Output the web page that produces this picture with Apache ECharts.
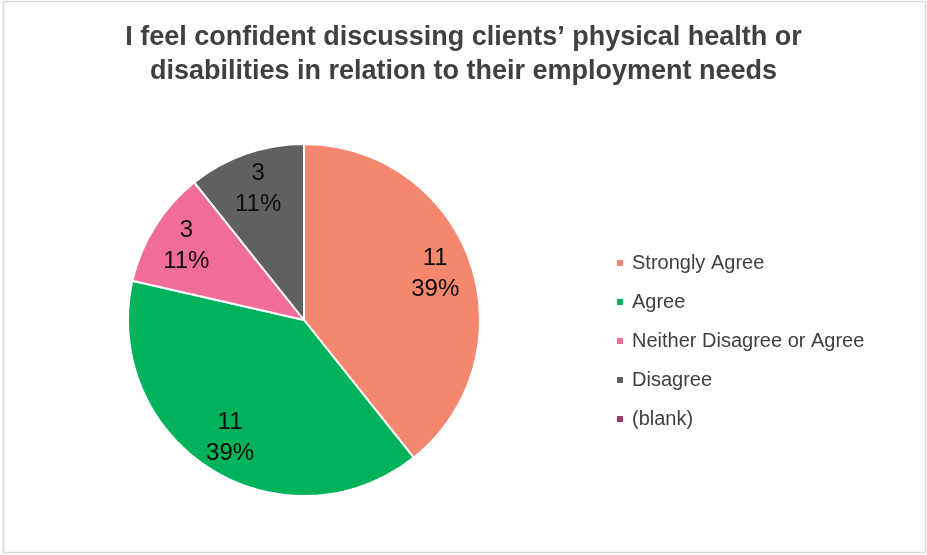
<!DOCTYPE html>
<html>
<head>
<meta charset="utf-8">
<script src="https://cdn.jsdelivr.net/npm/echarts@6/dist/echarts.min.js"></script>
<style>
  html, body { margin: 0; padding: 0; background: #fff; }
  #chart { width: 927px; height: 555px; }
</style>
</head>
<body>
<div id="chart"></div>
<script>
// Survey responses
const titleText = 'I feel confident discussing clients\u2019 physical health or\ndisabilities in relation to their employment needs';
const categories = ['Strongly Agree', 'Agree', 'Neither Disagree or Agree', 'Disagree', '(blank)'];
const counts = [11, 11, 3, 3, 0];
const colors = ['#F4876D', '#00B25A', '#F06C9B', '#5F6062', '#9E3A72'];

const sliceData = categories.map((name, i) => ({
  name: name,
  value: counts[i],
  itemStyle: { color: colors[i] }
}));

const labelData = categories.map((name, i) => ({
  name: name,
  value: counts[i],
  label: { show: counts[i] > 0 }
}));

const center = [304, 320];
const fontFamily = 'Liberation Sans, Arial, sans-serif';
const chart = echarts.init(document.getElementById('chart'), null, { renderer: 'canvas' });

chart.setOption({
  backgroundColor: '#ffffff',
  animation: false,
  title: {
    text: titleText,
    left: 'center',
    top: 16,
    textStyle: {
      fontFamily: fontFamily,
      fontWeight: 'bold',
      fontSize: 27,
      lineHeight: 34,
      color: '#404040'
    }
  },
  legend: {
    orient: 'vertical',
    left: 610,
    top: 248,
    icon: 'rect',
    itemWidth: 8,
    itemHeight: 8,
    itemGap: 19,
    data: categories,
    textStyle: {
      fontFamily: fontFamily,
      fontSize: 20,
      color: '#404040',
      padding: [0, 0, 0, 3]
    }
  },
  graphic: [{
    type: 'rect',
    shape: { x: 3.5, y: 1.5, width: 922, height: 551 },
    style: { fill: 'none', stroke: '#d9d9d9', lineWidth: 1.5 },
    silent: true
  }],
  series: [
    {
      // Slices
      type: 'pie',
      center: center,
      radius: [0, 176],
      startAngle: 90,
      clockwise: true,
      label: { show: false },
      labelLine: { show: false },
      itemStyle: { borderColor: '#ffffff', borderWidth: 2 },
      emphasis: { disabled: true },
      data: sliceData
    },
    {
      // Value / percentage labels, placed toward the rim
      type: 'pie',
      center: center,
      radius: [96, 176],
      startAngle: 90,
      clockwise: true,
      percentPrecision: 0,
      silent: true,
      itemStyle: { color: 'rgba(0,0,0,0)', borderWidth: 0 },
      labelLine: { show: false },
      emphasis: { disabled: true },
      label: {
        position: 'inside',
        formatter: p => p.value + '\n' + p.percent + '%',
        fontFamily: fontFamily,
        fontSize: 24,
        lineHeight: 31,
        color: '#0d0d0d'
      },
      data: labelData
    }
  ]
});
</script>
</body>
</html>
